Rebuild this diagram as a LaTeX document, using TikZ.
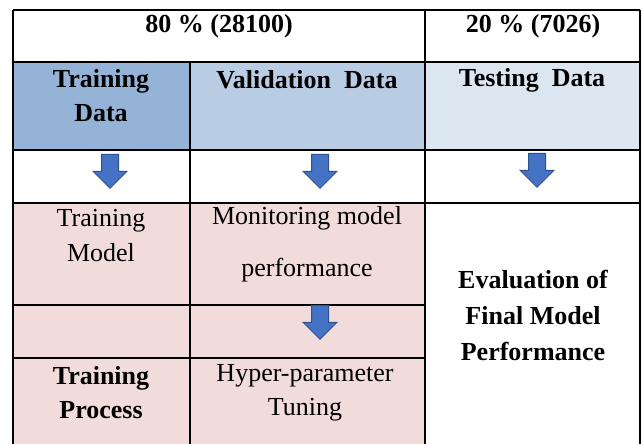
\documentclass[tikz,border=0pt]{standalone}
\usepackage{fontspec}
\setmainfont{Liberation Serif}
\usetikzlibrary{shapes.arrows}
\definecolor{trainblue}{HTML}{95B3D7}
\definecolor{validblue}{HTML}{B8CCE4}
\definecolor{testblue}{HTML}{DCE6F1}
\definecolor{cellpink}{HTML}{F2DCDB}
\definecolor{arrowfill}{HTML}{4472C4}
\definecolor{arrowedge}{HTML}{2F528F}

\begin{document}
\begin{tikzpicture}[x=1pt, y=-1pt,
        cell/.style={align=center, inner sep=0pt, font=\fontsize{26}{35}\selectfont},
        head/.style={align=center, inner sep=0pt, font=\fontsize{26}{34}\selectfont\bfseries},
        downarrow/.style={single arrow, draw=arrowedge, fill=arrowfill, line width=1pt,
            shape border rotate=270, inner sep=8pt, minimum height=34pt,
            single arrow head extend=8.5pt}]
        \useasboundingbox (0, 0) rectangle (642, 444);
        \fill[trainblue] (13, 62) rectangle (190, 150);
        \fill[validblue] (190, 62) rectangle (425, 150);
        \fill[testblue] (425, 62) rectangle (640, 150);
        \fill[cellpink] (13, 203) rectangle (425, 444);
        \draw[line width=1.8pt] (13, 10) -- (640, 10);
        \draw[line width=1.8pt] (13, 62) -- (640, 62);
        \draw[line width=1.8pt] (13, 150) -- (640, 150);
        \draw[line width=1.8pt] (13, 203) -- (640, 203);
        \draw[line width=1.8pt] (13, 305) -- (425, 305);
        \draw[line width=1.8pt] (13, 358) -- (425, 358);
        \draw[line width=1.8pt] (13, 10) -- (13, 444);
        \draw[line width=1.8pt] (640, 10) -- (640, 444);
        \draw[line width=1.8pt] (425, 10) -- (425, 444);
        \draw[line width=1.8pt] (190, 62) -- (190, 444);
        %\draw (13, 444) -- (640, 444);
        \node[head] (share80) at (219, 26) {80 \% (28100)};
        \node[head] (share20) at (533, 26) {20 \% (7026)};
        \node[head] (trainData) at (101, 96) {Training\\Data};
        \node[head] (validData) at (307, 80) {Validation~ Data};
        \node[head] (testData) at (532, 80) {Testing~ Data};
        \node[downarrow] (arrTrain) at (110, 167) {};
        \node[downarrow] (arrValid) at (320, 167) {};
        \node[downarrow] (arrTest) at (537, 166) {};
        \node[cell] (trainModel) at (101, 236) {Training\\Model};
        \node[cell, font=\fontsize{26}{52}\selectfont] (monitor) at (307, 244) {Monitoring model\\performance};
        \node[downarrow] (arrTune) at (320, 318) {};
        \node[head, font=\fontsize{26}{36}\selectfont\bfseries] (evalFinal) at (533, 315) {Evaluation of\\Final Model\\Performance};
        \node[head] (trainProc) at (101, 393) {Training\\Process};
        \node[cell, font=\fontsize{26}{34}\selectfont] (hyperTune) at (305, 393) {Hyper-parameter\\Tuning};
    \end{tikzpicture}
\end{document}
